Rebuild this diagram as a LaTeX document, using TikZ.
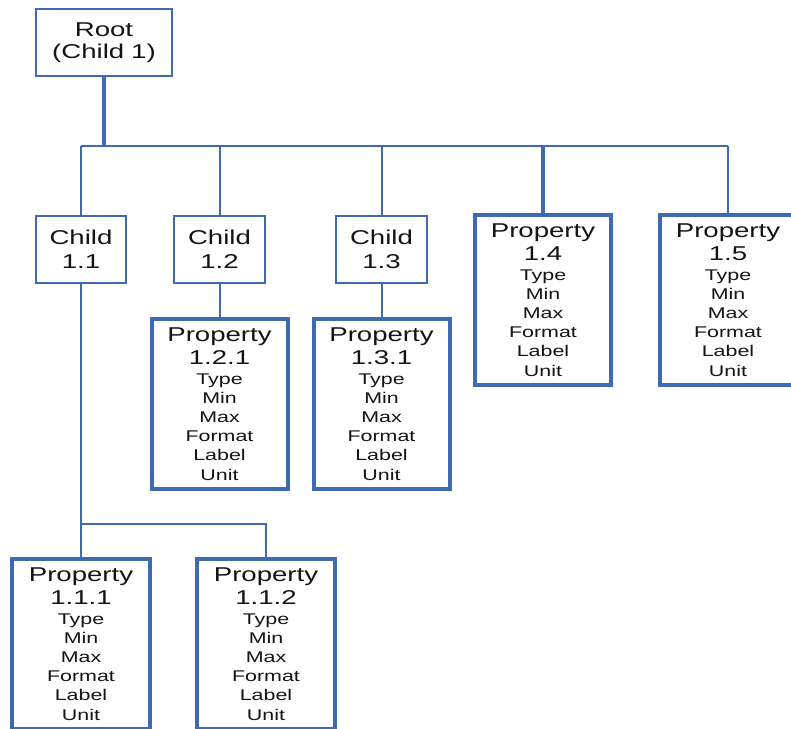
\documentclass[tikz,border=0pt]{standalone}
\usepackage{fontspec}
\setmainfont{Liberation Sans}[FakeStretch=1.38]
\definecolor{bl}{RGB}{62,106,178}
\definecolor{ink}{RGB}{20,20,20}
\newcommand{\ttl}{\fontsize{20}{23.5}\selectfont}
\newcommand{\sml}{\fontsize{15.5}{19.2}\selectfont}
\newcommand{\props}{\par\sml Type\\Min\\Max\\Format\\Label\\Unit\par}
\begin{document}
\begin{tikzpicture}[x=1pt,y=1pt,
  thinbox/.style={draw=bl, line width=2pt, inner sep=0pt, align=center, text=ink,
     text width=#1, minimum height=67pt},
  propbox/.style={draw=bl, line width=4pt, inner sep=0pt, align=center, text=ink,
     text width=136pt, minimum height=170pt},
  conn/.style={draw=bl, line width=2pt},
  bconn/.style={draw=bl, line width=3.2pt}]
\useasboundingbox (0,0) rectangle (791,-728);
\fill[white] (0,0) rectangle (791,-728);

\node[thinbox=136pt] (root) at (104,-42.5) {\fontsize{20}{22}\selectfont Root\\(Child\hspace{7pt}1)\par};
\node[thinbox=90pt] (c11) at (81,-249.5) {\fontsize{20}{24.3}\selectfont Child\\1.1\par};
\node[thinbox=91pt] (c12) at (219.5,-249.5) {\fontsize{20}{24.3}\selectfont Child\\1.2\par};
\node[thinbox=91pt] (c13) at (381.5,-249.5) {\fontsize{20}{24.3}\selectfont Child\\1.3\par};

\node[propbox] (p14) at (543,-300) {\ttl Property\\1.4\props};
\node[propbox] (p15) at (728,-300) {\ttl Property\\1.5\props};
\node[propbox] (p121) at (219.5,-404) {\ttl Property\\1.2.1\props};
\node[propbox] (p131) at (381.5,-404) {\ttl Property\\1.3.1\props};
\node[propbox, text width=138pt] (p111) at (81,-644) {\ttl Property\\1.1.1\props};
\node[propbox, text width=138pt] (p112) at (266,-644) {\ttl Property\\1.1.2\props};

\coordinate (bus) at (0,-146);
\coordinate (bus2) at (0,-524);

% root bus
\draw[conn] (c11.north |- bus) -- (p15.north |- bus);
\draw[bconn] (root.south) -- (root.south |- bus);
\draw[conn] (c11.north |- bus) -- (c11.north);
\draw[conn] (c12.north |- bus) -- (c12.north);
\draw[conn] (c13.north |- bus) -- (c13.north);
\draw[bconn] (p14.north |- bus) -- (p14.north);
\draw[conn] (p15.north |- bus) -- (p15.north);

% children
\draw[conn] (c12.south) -- (p121.north);
\draw[conn] (c13.south) -- (p131.north);
\draw[conn] (c11.south) -- (c11.south |- bus2) -- (p112.north |- bus2) -- (p112.north);
\draw[conn] (c11.south |- bus2) -- (p111.north);
\end{tikzpicture}
\end{document}
